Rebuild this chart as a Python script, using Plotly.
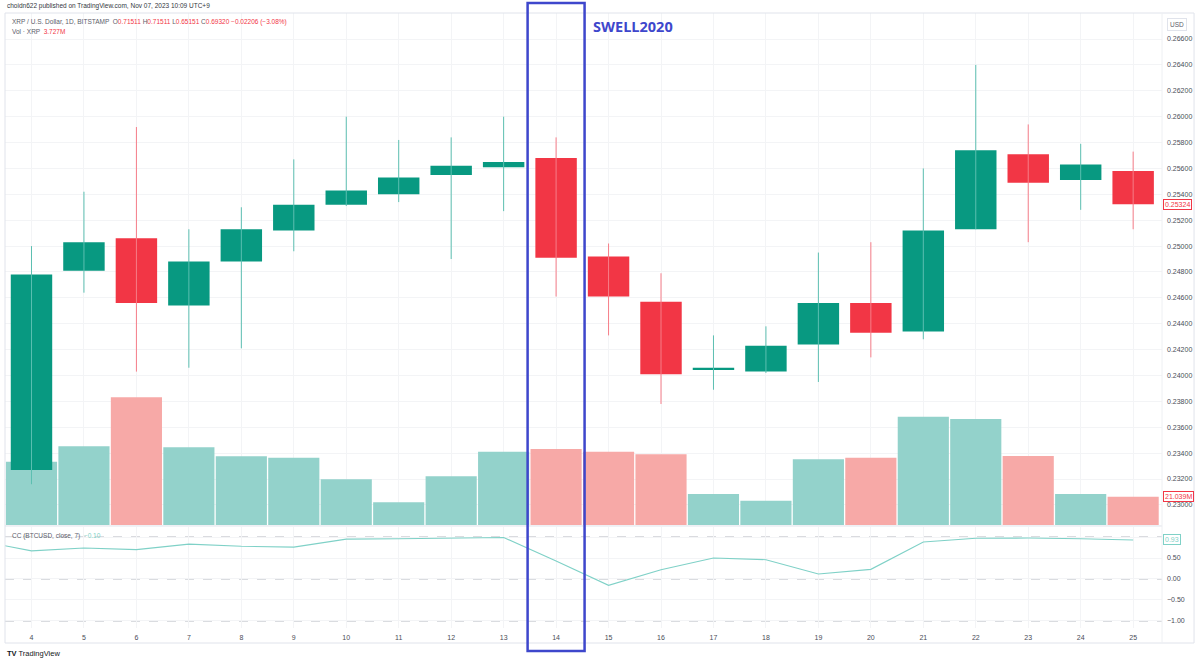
import plotly.graph_objects as go

# ---------------- data ----------------
DAYS = list(range(4, 26))
OPEN = [0.2327, 0.2481, 0.2506, 0.2454, 0.2488, 0.2512, 0.2532, 0.2540, 0.2555, 0.2561, 0.2568,
        0.2492, 0.2457, 0.2405, 0.2403, 0.2424, 0.2456, 0.2434, 0.2513, 0.2571, 0.2551, 0.2558]
HIGH = [0.2500, 0.2542, 0.2592, 0.2513, 0.2530, 0.2567, 0.2600, 0.2582, 0.2584, 0.2600, 0.2584,
        0.2502, 0.2479, 0.2431, 0.2438, 0.2495, 0.2503, 0.2560, 0.2640, 0.2594, 0.2579, 0.2573]
LOW = [0.2316, 0.2464, 0.2403, 0.2406, 0.2421, 0.2496, 0.2531, 0.2534, 0.2490, 0.2527, 0.2461,
       0.2431, 0.2378, 0.2389, 0.2402, 0.2395, 0.2414, 0.2428, 0.2513, 0.2503, 0.2528, 0.2513]
CLOSE = [0.2478, 0.2503, 0.2456, 0.2488, 0.2513, 0.2532, 0.2543, 0.2553, 0.2562, 0.2565, 0.2491,
         0.2461, 0.2401, 0.2406, 0.2423, 0.2456, 0.2433, 0.2512, 0.2574, 0.2549, 0.2563, 0.25324]
VOLUME_M = [47.1, 58.5, 94.9, 57.8, 51.1, 50.0, 34.0, 16.9, 36.2, 54.5, 56.5,
            54.5, 52.6, 23.0, 18.1, 48.8, 50.0, 80.5, 78.8, 51.3, 23.0, 21.039]
CC_DAYS = list(range(3, 26))
CC_VALUES = [0.91, 0.67, 0.74, 0.70, 0.83, 0.78, 0.76, 0.95, 0.96, 0.975, 0.99, 0.43,
             -0.15, 0.22, 0.50, 0.46, 0.12, 0.23, 0.88, 0.97, 0.975, 0.96, 0.93]
CC_LEVELS = [1.0, 0.0, -1.0]
PRICE_TICKS = [round(0.230 + 0.002 * i, 3) for i in range(0, 19)]
CC_TICKS = [-1.0, -0.5, 0.0, 0.5, 1.0]
HIGHLIGHT_DAY = 14
HIGHLIGHT_LABEL = "SWELL2020"

# ---------------- styling ----------------
UP = "#089981"
DOWN = "#f23645"
UP_WICK = "#5cbfb1"
DOWN_WICK = "#f67d88"
UP_VOL = "#93d2cb"
DOWN_VOL = "#f7a9a7"
CC_COLOR = "#7fd1c7"
GRID = "#f3f4f6"
BLUE = "#3e47cc"
TXT = "#5d606b"
FONT = "Liberation Sans"

up = [c >= o for o, c in zip(OPEN, CLOSE)]

fig = go.Figure()

# volume (base subplot, drawn below)
fig.add_trace(go.Bar(
    x=DAYS, y=VOLUME_M, width=0.975,
    marker=dict(color=[UP_VOL if u else DOWN_VOL for u in up], line=dict(width=0)),
    xaxis="x", yaxis="y", hoverinfo="skip", showlegend=False))

# wicks
for flag, col in ((True, UP_WICK), (False, DOWN_WICK)):
    wx, wy = [], []
    for d, h, l, u in zip(DAYS, HIGH, LOW, up):
        if u == flag:
            wx += [d, d, None]
            wy += [l, h, None]
    fig.add_trace(go.Scatter(x=wx, y=wy, mode="lines", line=dict(color=col, width=1),
                             xaxis="x", yaxis="y2", hoverinfo="skip", showlegend=False))

# bodies
fig.add_trace(go.Bar(
    x=DAYS,
    y=[max(abs(c - o), 0.00008) for o, c in zip(OPEN, CLOSE)],
    base=[min(o, c) for o, c in zip(OPEN, CLOSE)],
    width=0.79,
    marker=dict(color=[UP if u else DOWN for u in up], line=dict(width=0)),
    xaxis="x", yaxis="y2", hoverinfo="skip", showlegend=False))

# CC indicator
fig.add_trace(go.Scatter(x=CC_DAYS, y=CC_VALUES, mode="lines",
                         line=dict(color=CC_COLOR, width=1.1),
                         xaxis="x2", yaxis="y3", hoverinfo="skip", showlegend=False))

XR = [3.495, 25.55]
tickfont = dict(family=FONT, size=7, color="#4a4d57")

fig.update_layout(
    width=1200, height=663,
    margin=dict(l=5, r=38, t=13, b=35, autoexpand=False),
    paper_bgcolor="white", plot_bgcolor="white",
    barmode="overlay", showlegend=False, hovermode=False,
    xaxis=dict(domain=[0, 1], range=XR, anchor="y", tickvals=DAYS, showticklabels=False,
               showgrid=True, gridcolor=GRID, zeroline=False, showline=False, ticks=""),
    yaxis=dict(domain=[0.1675, 1], range=[0, 380.6], visible=False, showgrid=False),
    yaxis2=dict(overlaying="y", side="right", anchor="x", range=[0.22845, 0.26801],
                tickvals=PRICE_TICKS, tickformat=".5f", showgrid=True, gridcolor=GRID,
                zeroline=False, ticks="", ticklabelstandoff=4, tickfont=tickfont),
    xaxis2=dict(domain=[0, 1], range=XR, anchor="y3", matches="x", tickvals=DAYS,
                showgrid=True, gridcolor=GRID, zeroline=False, ticks="",
                ticklabelstandoff=4, tickfont=tickfont),
    yaxis3=dict(domain=[0, 0.1642], range=[-1.167, 1.238], side="right", anchor="x2",
                tickvals=CC_TICKS, tickformat=".2f", showgrid=True, gridcolor=GRID,
                zeroline=False, ticks="", ticklabelstandoff=4, tickfont=tickfont),
)

shapes = []
# CC band levels
for lv in CC_LEVELS:
    shapes.append(dict(type="line", xref="x2 domain", yref="y3", x0=0, x1=1, y0=lv, y1=lv,
                       line=dict(color="#b4b7bf", width=1, dash="dash"), layer="below"))
# pane separator and frame
shapes.append(dict(type="line", xref="paper", yref="paper", x0=0, x1=1, y0=0.1659, y1=0.1659,
                   line=dict(color="#e0e3eb", width=1)))
shapes.append(dict(type="rect", xref="paper", yref="paper", x0=0, x1=1.0277, y0=-0.0244, y1=1,
                   line=dict(color="#e0e3eb", width=1)))
shapes.append(dict(type="line", xref="paper", yref="paper", x0=1.0, x1=1.0, y0=-0.0244, y1=1,
                   line=dict(color="#eef0f3", width=1)))
# highlight box around the marked day
shapes.append(dict(type="rect", xref="x", yref="paper",
                   x0=HIGHLIGHT_DAY - 0.543, x1=HIGHLIGHT_DAY + 0.543, y0=-0.0374, y1=1.0163,
                   line=dict(color=BLUE, width=2.5)))
fig.update_layout(shapes=shapes)

ann = []
red = DOWN
ann.append(dict(xref="paper", yref="paper", x=0.0, y=1.0114, xanchor="left", yanchor="middle",
                text="choidn622 published on TradingView.com, Nov 07, 2023 10:09 UTC+9",
                showarrow=False, font=dict(family=FONT, size=6.5, color="#333740")))
ann.append(dict(xref="paper", yref="paper", x=0.0043, y=0.986, xanchor="left", yanchor="middle",
                text=(f"XRP / U.S. Dollar, 1D, BITSTAMP  O<span style='color:{red}'>0.71511</span> "
                      f"H<span style='color:{red}'>0.71511</span> L<span style='color:{red}'>0.65151</span> "
                      f"C<span style='color:{red}'>0.69320</span> <span style='color:{red}'>−0.02206 (−3.08%)</span>"),
                showarrow=False, font=dict(family=FONT, size=6.5, color=TXT)))
ann.append(dict(xref="paper", yref="paper", x=0.0043, y=0.9703, xanchor="left", yanchor="middle",
                text=f"Vol · XRP  <span style='color:{red}'>3.727M</span>",
                showarrow=False, font=dict(family=FONT, size=6.5, color=TXT)))
ann.append(dict(xref="paper", yref="paper", x=0.0043, y=0.1498, xanchor="left", yanchor="middle",
                text=f"CC (BTCUSD, close, 7)  <span style='color:{CC_COLOR}'>−0.10</span>",
                showarrow=False, font=dict(family=FONT, size=6.5, color=TXT)))
ann.append(dict(xref="x", yref="paper", x=HIGHLIGHT_DAY + 0.66, y=0.9785, xanchor="left",
                yanchor="middle", text=f"<b>{HIGHLIGHT_LABEL}</b>", showarrow=False,
                font=dict(family="Open Sans", size=14.5, color=BLUE)))
# last value labels
ann.append(dict(xref="paper", yref="y2", x=1.0, y=CLOSE[-1], xanchor="left", yanchor="middle",
                text=f"{CLOSE[-1]:.5f}", showarrow=False, bgcolor="white", bordercolor=red,
                borderwidth=1, borderpad=1, xshift=1, font=dict(family=FONT, size=7, color=red)))
ann.append(dict(xref="paper", yref="y", x=1.0, y=VOLUME_M[-1], xanchor="left", yanchor="middle",
                text=f"{VOLUME_M[-1]:.3f}M", showarrow=False, bgcolor="white", bordercolor=red,
                borderwidth=1, borderpad=1, xshift=1, font=dict(family=FONT, size=7, color=red)))
ann.append(dict(xref="paper", yref="y3", x=1.0, y=CC_VALUES[-1], xanchor="left", yanchor="middle",
                text=f"{CC_VALUES[-1]:.2f}", showarrow=False, bgcolor="white", bordercolor=CC_COLOR,
                borderwidth=1, borderpad=1, xshift=1, font=dict(family=FONT, size=7, color=CC_COLOR)))
ann.append(dict(xref="paper", yref="paper", x=1.003, y=0.981, xanchor="left", yanchor="middle",
                text="USD", showarrow=False, bgcolor="white", bordercolor="#e0e3eb",
                borderwidth=1, borderpad=2, xshift=2, font=dict(family=FONT, size=6.5, color=TXT)))
ann.append(dict(xref="paper", yref="paper", x=0.0, y=-0.0415, xanchor="left", yanchor="middle",
                text="<b>TV</b> TradingView", showarrow=False,
                font=dict(family=FONT, size=7.5, color="#131722")))
fig.update_layout(annotations=ann)

fig.write_html("out.html", config={"displayModeBar": False},
               post_script="document.body.style.margin='0';document.body.style.padding='0';")
